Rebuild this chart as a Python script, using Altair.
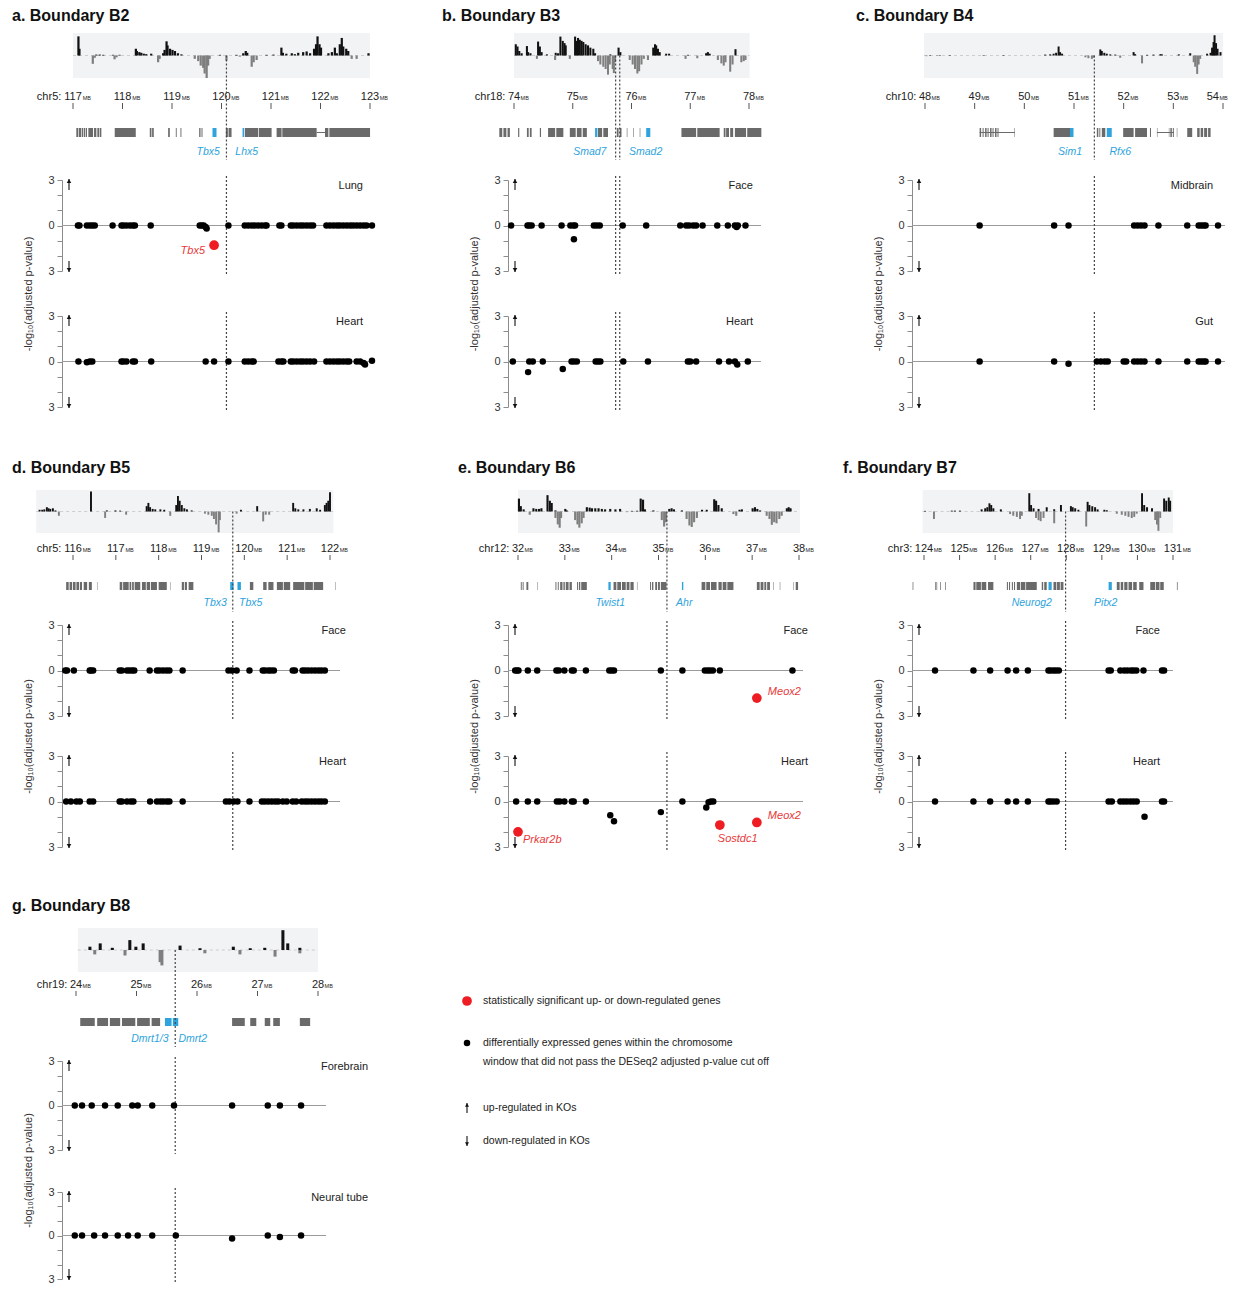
import altair as alt
import pandas as pd

FONT = "Liberation Sans"
BLACK = "#111111"
DOWN_GRAY = "#7f7f7f"
BOX_BG = "#f2f3f5"
GENE_GRAY = "#6a6a6a"
BLUE = "#2ea3dc"
RED = "#ee1d23"
RED_TXT = "#e8383a"
YTITLE = "-log\u2081\u2080(adjusted p-value)"

# ---------------- Panel a: Boundary B2 ----------------
A_TICKS = [117, 118, 119, 120, 121, 122, 123]
A_BOX = [117.0, 123.0]
A_BOUNDARY = [120.10]
A_SIG_UP = [[117.11,0.85],[117.13,0.3],[117.47,0.04],[117.54,0.04],[117.61,0.03],[117.81,0.03],[117.94,0.03],
            [118.27,0.3],[118.29,0.2],[118.34,0.15],[118.38,0.12],[118.43,0.08],[118.48,0.06],[118.58,0.08],
            [118.82,0.1],[118.85,0.25],[118.89,0.63],[118.91,0.45],[118.96,0.3],[119.01,0.25],[119.06,0.2],
            [119.12,0.1],[119.19,0.05],[119.97,0.03],[120.30,0.03],[120.44,0.1],[120.49,0.2],[120.52,0.12],
            [120.91,0.03],[121.05,0.04],[121.21,0.35],[121.24,0.12],[121.31,0.08],[121.42,0.1],[121.48,0.06],
            [121.55,0.12],[121.65,0.15],[121.72,0.18],[121.79,0.1],[121.87,0.3],[121.91,0.5],[121.94,0.85],
            [121.98,0.5],[122.01,0.35],[122.16,0.1],[122.23,0.15],[122.29,0.35],[122.33,0.1],[122.39,0.5],
            [122.43,0.78],[122.46,0.4],[122.52,0.3],[122.56,0.2],[122.97,0.1]]
A_SIG_DN = [[117.40,0.37],[117.44,0.1],[117.84,0.17],[117.88,0.08],[118.72,0.3],[118.75,0.15],[119.46,0.15],
            [119.53,0.25],[119.58,0.45],[119.63,0.55],[119.66,0.8],[119.70,1.0],[119.73,0.45],[119.76,0.15],
            [120.10,0.23],[120.37,0.05],[120.61,0.5],[120.65,0.3],[120.71,0.2],[122.63,0.15],[122.73,0.15]]
A_GENES = [[117.067,117.108],[117.121,117.162],[117.175,117.202],[117.216,117.243],[117.256,117.283],
           [117.310,117.405],[117.425,117.472],[117.492,117.526],[117.539,117.573],[117.843,118.268],
           [118.551,118.585],[118.598,118.632],[118.922,118.956],[119.077,119.095],[119.171,119.19],
           [119.549,119.576],[119.596,119.616],[120.088,120.129],[120.142,120.203],[120.473,120.742],
           [120.756,121.012],[121.113,121.214],[121.228,121.922],[122.091,122.159],[122.179,123.001]]
A_BLUE = [[119.818,119.899],[120.425,120.459]]
A_INTRONS = [[121.922,122.091]]
A_GENE_LABELS = [["Tbx5",119.73],["Lhx5",120.51]]
A_TISSUES = ["Lung","Heart"]
A_LUNG = [[117.10,0],[117.13,0],[117.28,0],[117.34,0],[117.39,0],[117.44,0],[117.80,0],[117.98,0],[118.02,0],
          [118.08,0],[118.15,0],[118.21,0],[118.25,0],[118.57,0],[119.56,0],[119.60,0],[119.64,0],[119.68,-0.1],
          [119.70,-0.2],[120.14,0],[120.47,0],[120.54,0],[120.61,0],[120.67,0],[120.74,0],[120.81,0],[120.88,0],
          [120.91,0],[121.17,0],[121.21,0],[121.40,0],[121.45,0],[121.52,0],[121.59,0],[121.65,0],[121.72,0],
          [121.79,0],[121.85,0],[122.12,0],[122.19,0],[122.26,0],[122.33,0],[122.39,0],[122.46,0],[122.53,0],
          [122.60,0],[122.66,0],[122.73,0],[122.80,0],[122.87,0],[122.93,0],[123.04,0]]
A_LUNG_SIG = [[119.85,-1.3,"Tbx5","left"]]
A_HEART = [[117.11,0],[117.28,-0.05],[117.34,0],[117.39,0],[117.98,0],[118.02,0],[118.08,0],[118.21,0],[118.25,0],
           [118.58,0],[119.68,0],[119.85,0],[120.14,0],[120.47,0],[120.54,0],[120.61,0],[120.65,0],[121.15,0],
           [121.21,0],[121.25,0],[121.40,0],[121.45,0],[121.52,0],[121.59,0],[121.65,0],[121.72,0],[121.79,0],
           [121.87,0],[122.12,0],[122.19,0],[122.26,0],[122.33,0],[122.39,0],[122.46,0],[122.53,0],[122.58,0],
           [122.73,0],[122.80,0],[122.87,-0.1],[122.90,-0.2],[123.04,0.05]]
A_HEART_SIG = []

# ---------------- Panel b: Boundary B3 ----------------
B_TICKS = [74, 75, 76, 77, 78]
B_BOX = [74.0, 78.01]
B_BOUNDARY = [75.73, 75.80]
B_SIG_UP = [[74.03,0.5],[74.06,0.4],[74.09,0.2],[74.13,0.1],[74.22,0.42],[74.24,0.15],[74.28,0.1],[74.41,0.62],
            [74.44,0.4],[74.47,0.15],[74.56,0.05],[74.71,0.12],[74.75,0.1],[74.79,0.84],[74.83,0.65],[74.86,0.55],
            [74.88,0.45],[75.04,0.84],[75.07,0.65],[75.09,0.78],[75.12,0.7],[75.15,0.65],[75.18,0.6],[75.22,0.5],
            [75.26,0.45],[75.30,0.35],[75.35,0.3],[75.38,0.1],[75.64,0.05],[75.78,0.35],[75.81,0.15],[76.37,0.35],
            [76.40,0.5],[76.42,0.45],[76.45,0.3],[76.48,0.15],[76.59,0.08],[76.64,0.08],[76.96,0.03],[77.27,0.1],
            [77.30,0.15],[77.33,0.08],[77.77,0.28]]
B_SIG_DN = [[74.39,0.15],[74.70,0.2],[74.95,0.15],[75.43,0.25],[75.47,0.4],[75.52,0.5],[75.56,0.6],[75.60,0.85],
            [75.63,0.4],[75.68,0.6],[75.70,0.78],[75.72,0.3],[75.97,0.2],[76.02,0.4],[76.06,0.6],[76.10,0.8],
            [76.13,0.7],[76.17,0.4],[76.21,0.15],[76.28,0.2],[76.92,0.15],[77.12,0.12],[77.47,0.2],[77.53,0.35],
            [77.57,0.45],[77.60,0.3],[77.68,0.72],[77.72,0.4],[77.87,0.3],[77.91,0.25],[77.94,0.2]]
B_GENES = [[73.75,73.80],[73.82,73.87],[73.89,73.93],[74.07,74.09],[74.22,74.25],[74.27,74.30],[74.44,74.46],
           [74.58,74.70],[74.72,74.84],[74.95,75.05],[75.07,75.15],[75.17,75.24],[75.43,75.50],[75.52,75.60],
           [75.75,75.78],[75.80,75.83],[75.92,75.93],[76.03,76.04],[76.14,76.15],[76.85,77.10],[77.12,77.50],
           [77.57,77.60],[77.61,77.66],[77.68,77.73],[77.76,77.95],[77.97,78.21]]
B_BLUE = [[75.38,75.42],[76.25,76.32]]
B_INTRONS = []
B_GENE_LABELS = [["Smad7",75.29],["Smad2",76.24]]
B_TISSUES = ["Face","Heart"]
B_FACE = [[73.95,0],[74.23,0],[74.26,0],[74.30,0],[74.47,0],[74.81,0],[74.96,0],[75.01,0],[75.04,0],[75.02,-0.9],
          [75.36,0],[75.41,0],[75.46,0],[75.85,0],[76.25,0],[76.83,0],[76.93,0],[76.98,0],[77.05,0],[77.10,0],
          [77.21,0],[77.46,0],[77.64,0],[77.76,0],[77.79,-0.1],[77.81,0],[77.94,0]]
B_HEART = [[73.98,0],[74.24,-0.7],[74.26,0],[74.32,0],[74.49,0],[74.83,-0.5],[74.98,0],[75.02,0],[75.07,0],
           [75.39,0],[75.43,0],[75.47,0],[75.86,0],[76.28,0],[76.96,0],[77.00,0],[77.10,0],[77.49,0],[77.66,0],
           [77.76,0],[77.80,-0.2],[77.98,0]]

# ---------------- Panel c: Boundary B4 ----------------
C_TICKS = [48, 49, 50, 51, 52, 53, 54]
C_BOX = [47.98, 54.0]
C_BOUNDARY = [51.41]
C_SIG_UP = [[48.10,0.02],[48.30,0.02],[48.50,0.02],[49.18,0.02],[49.58,0.02],[50.42,0.04],[50.52,0.05],[50.59,0.08],
            [50.64,0.12],[50.69,0.4],[50.72,0.15],[50.76,0.08],[51.53,0.27],[51.56,0.2],[51.61,0.12],[51.66,0.08],
            [51.73,0.05],[51.83,0.04],[52.20,0.15],[52.23,0.06],[52.47,0.03],[52.60,0.04],[52.74,0.06],[52.77,0.05],
            [53.11,0.05],[53.34,0.1],[53.68,0.08],[53.75,0.12],[53.78,0.35],[53.81,0.6],[53.83,0.9],[53.86,0.55],
            [53.89,0.3],[53.95,0.15]]
C_SIG_DN = [[48.03,0.03],[48.24,0.02],[51.23,0.08],[51.29,0.12],[51.36,0.15],[51.39,0.1],[51.93,0.1],[52.37,0.35],
            [53.41,0.3],[53.44,0.5],[53.48,0.82],[53.51,0.4],[53.54,0.15]]
C_GENES = [[49.10,49.13],[49.16,49.18],[49.21,49.24],[49.26,49.28],[49.31,49.34],[49.36,49.38],[49.41,49.44],
           [49.46,49.48],[49.80,49.81],[50.59,50.92],[51.46,51.49],[51.51,51.53],[51.56,51.63],[51.99,52.20],
           [52.23,52.47],[52.53,52.55],[52.67,52.68],[52.91,52.92],[52.94,52.97],[52.99,53.01],[53.07,53.08],
           [53.28,53.38],[53.48,53.53],[53.55,53.60],[53.62,53.68],[53.70,53.75]]
C_BLUE = [[50.92,50.99],[51.66,51.76]]
C_INTRONS = [[49.10,49.81],[52.67,53.01]]
C_GENE_LABELS = [["Sim1",50.92],["Rfx6",51.93]]
C_TISSUES = ["Midbrain","Gut"]
C_MID = [[49.10,0],[50.60,0],[50.89,0],[52.21,0],[52.28,0],[52.35,0],[52.42,0],[52.70,0],[53.28,0],[53.51,0],
         [53.56,0],[53.61,0],[53.65,0],[53.90,0]]
C_GUT = [[49.10,0],[50.60,0],[50.89,-0.15],[51.46,0],[51.54,0],[51.62,0],[51.68,0],[52.00,0],[52.05,0],[52.21,0],
         [52.28,0],[52.35,0],[52.42,0],[52.70,0],[53.28,0],[53.51,0],[53.56,0],[53.61,0],[53.65,0],[53.90,0]]

# ---------------- Panel d: Boundary B5 ----------------
D_TICKS = [116, 117, 118, 119, 120, 121, 122]
D_BOX = [115.14, 122.08]
D_BOUNDARY = [119.73]
D_SIG_UP = [[115.22,0.08],[115.28,0.08],[115.33,0.1],[115.39,0.2],[115.43,0.15],[115.47,0.12],[115.53,0.15],
            [115.59,0.05],[116.42,0.93],[116.79,0.05],[116.99,0.05],[117.10,0.04],[117.72,0.25],[117.76,0.4],
            [117.80,0.2],[117.86,0.12],[117.92,0.1],[118.04,0.1],[118.13,0.08],[118.41,0.3],[118.45,0.72],
            [118.49,0.5],[118.54,0.3],[118.60,0.15],[118.66,0.1],[118.77,0.05],[119.92,0.08],[120.30,0.25],
            [121.14,0.4],[121.19,0.15],[121.26,0.1],[121.38,0.1],[121.53,0.12],[121.69,0.15],[121.77,0.08],
            [121.88,0.3],[121.92,0.4],[121.96,0.5],[122.00,0.9]]
D_SIG_DN = [[115.67,0.2],[116.75,0.3],[117.24,0.15],[118.27,0.2],[119.08,0.1],[119.16,0.15],[119.24,0.2],
            [119.29,0.35],[119.34,0.6],[119.40,0.97],[119.43,0.4],[119.82,0.1],[120.44,0.46],[120.50,0.15],
            [120.58,0.15]]
D_GENES = [[115.84,115.90],[115.92,115.98],[116.00,116.06],[116.08,116.14],[116.16,116.21],[116.25,116.33],
           [116.37,116.44],[116.56,116.57],[117.09,117.15],[117.17,117.30],[117.32,117.36],[117.38,117.42],
           [117.44,117.57],[117.61,117.70],[117.72,117.80],[117.82,117.96],[118.00,118.19],[118.27,118.28],
           [118.54,118.59],[118.61,118.66],[118.70,118.81],[120.13,120.21],[120.44,120.52],[120.56,120.68],
           [120.76,120.90],[120.92,121.07],[121.14,121.40],[121.42,121.60],[121.62,121.84],[122.12,122.13]]
D_BLUE = [[119.67,119.75],[119.84,119.92]]
D_INTRONS = []
D_GENE_LABELS = [["Tbx3",119.32],["Tbx5",120.15]]
D_TISSUES = ["Face","Heart"]
D_FACE = [[115.82,0],[115.86,0],[116.02,0],[116.39,0],[116.42,0],[116.47,0],[117.09,0],[117.14,0],[117.26,0],
          [117.32,0],[117.38,0],[117.43,0],[117.79,0],[117.96,0],[118.02,0],[118.10,0],[118.18,0],[118.25,0],
          [118.56,0],[119.63,0],[119.71,0],[119.82,0],[120.12,0],[120.43,0],[120.48,0],[120.56,0],[120.62,0],
          [120.69,0],[121.13,0],[121.18,0],[121.36,0],[121.42,0],[121.49,0],[121.57,0],[121.65,0],[121.73,0],
          [121.80,0],[121.88,0]]
D_HEART = [[115.84,0],[115.95,0],[116.08,0],[116.16,0],[116.39,0],[116.47,0],[117.09,0],[117.14,0],[117.26,0],
           [117.35,0],[117.41,0],[117.80,0],[117.96,0],[118.04,0],[118.11,0],[118.19,0],[118.25,0],[118.56,0],
           [119.57,0],[119.65,0],[119.75,0],[119.84,0],[120.12,0],[120.41,0],[120.48,0],[120.56,0],[120.64,0],
           [120.72,0],[120.79,0],[120.90,0],[120.99,0],[121.13,0],[121.21,0],[121.34,0],[121.42,0],[121.49,0],
           [121.57,0],[121.65,0],[121.73,0],[121.80,0],[121.88,0]]

# ---------------- Panel e: Boundary B6 ----------------
E_TICKS = [32, 33, 34, 35, 36, 37, 38]
E_BOX = [32.0, 38.02]
E_BOUNDARY = [35.18]
E_SIG_UP = [[32.02,0.6],[32.06,0.25],[32.12,0.1],[32.33,0.15],[32.39,0.12],[32.45,0.12],[32.50,0.15],[32.63,0.76],
            [32.68,0.5],[32.72,0.4],[32.80,0.05],[33.01,0.12],[33.04,0.05],[33.47,0.2],[33.53,0.18],[33.58,0.15],
            [33.65,0.15],[33.72,0.15],[33.79,0.12],[33.86,0.1],[33.97,0.12],[34.08,0.1],[34.18,0.12],[34.43,0.03],
            [34.54,0.03],[34.62,0.6],[34.67,0.55],[34.71,0.1],[34.89,0.05],[35.23,0.12],[35.28,0.15],[35.33,0.1],
            [35.50,0.05],[35.93,0.08],[36.03,0.08],[36.19,0.57],[36.23,0.5],[36.28,0.3],[36.35,0.15],[36.73,0.08],
            [36.78,0.1],[37.01,0.15],[37.06,0.2],[37.11,0.12],[37.17,0.05],[37.74,0.15],[37.78,0.2],[37.82,0.15]]
E_SIG_DN = [[32.25,0.15],[32.80,0.3],[32.85,0.6],[32.89,0.76],[32.92,0.3],[33.22,0.4],[33.27,0.6],[33.31,0.75],
            [33.36,0.55],[33.40,0.3],[34.32,0.03],[35.07,0.4],[35.12,0.7],[35.16,0.5],[35.60,0.35],[35.66,0.65],
            [35.71,0.72],[35.76,0.5],[35.82,0.3],[36.60,0.12],[36.66,0.2],[37.31,0.2],[37.37,0.35],[37.42,0.62],
            [37.47,0.5],[37.52,0.55],[37.58,0.35],[37.63,0.2]]
E_GENES = [[32.06,32.08],[32.10,32.12],[32.18,32.22],[32.41,32.42],[32.80,32.82],[32.85,32.87],[32.90,32.95],
           [32.97,33.00],[33.02,33.08],[33.10,33.15],[33.26,33.28],[33.30,33.33],[33.35,33.47],[34.04,34.10],
           [34.12,34.20],[34.22,34.30],[34.32,34.38],[34.40,34.47],[34.54,34.55],[34.82,34.84],[34.86,34.89],
           [34.93,34.97],[34.99,35.03],[35.05,35.17],[35.92,36.00],[36.02,36.10],[36.12,36.24],[36.28,36.35],
           [36.37,36.45],[36.47,36.60],[37.10,37.16],[37.18,37.24],[37.26,37.30],[37.32,37.38],[37.45,37.46],
           [37.59,37.60],[37.88,37.89],[37.93,37.98]]
E_BLUE = [[33.93,33.98],[35.50,35.53]]
E_INTRONS = []
E_GENE_LABELS = [["Twist1",33.97],["Ahr",35.55]]
E_TISSUES = ["Face","Heart"]
E_FACE = [[31.94,0],[31.98,0],[32.01,0],[32.21,0],[32.41,0],[32.82,0],[32.87,0],[32.99,0],[33.15,0],[33.19,0],
          [33.45,0],[33.95,0],[34.00,0],[34.05,0],[35.05,0],[35.51,0],[35.99,0],[36.05,0],[36.10,0],[36.16,0],
          [36.31,0],[37.86,0]]
E_FACE_SIG = [[37.10,-1.82,"Meox2","right"]]
E_HEART = [[31.96,0],[32.21,0],[32.41,0],[32.83,0],[32.89,0],[32.99,0],[33.15,0],[33.19,0],[33.45,0],
           [33.97,-0.9],[34.05,-1.3],[35.05,-0.7],[35.51,0],[36.02,-0.4],[36.07,-0.05],[36.12,0],[36.17,0]]
E_HEART_SIG = [[32.00,-2.0,"Prkar2b","belowright"],[36.31,-1.55,"Sostdc1","below"],[37.10,-1.38,"Meox2","right"]]

# ---------------- Panel f: Boundary B7 ----------------
F_TICKS = [124, 125, 126, 127, 128, 129, 130, 131]
F_BOX = [123.96, 131.0]
F_BOUNDARY = [127.98]
F_SIG_UP = [[124.03,0.03],[124.78,0.04],[124.87,0.04],[125.01,0.04],[125.62,0.1],[125.72,0.15],[125.78,0.2],
            [125.84,0.38],[125.89,0.3],[125.95,0.15],[126.16,0.1],[126.96,0.85],[127.01,0.3],[127.08,0.15],
            [127.22,0.12],[127.45,0.2],[127.66,0.1],[127.85,0.3],[128.13,0.25],[128.18,0.2],[128.25,0.15],
            [128.34,0.08],[128.60,0.45],[128.65,0.3],[128.73,0.25],[128.81,0.2],[128.88,0.1],[129.07,0.08],
            [129.14,0.06],[130.13,0.85],[130.19,0.3],[130.27,0.2],[130.41,0.15],[130.75,0.6],[130.81,0.5],
            [130.88,0.65],[130.92,0.5]]
F_SIG_DN = [[124.28,0.35],[126.42,0.12],[126.51,0.2],[126.61,0.25],[126.70,0.35],[126.75,0.2],[127.15,0.3],
            [127.22,0.4],[127.28,0.45],[127.36,0.3],[127.66,0.55],[128.56,0.7],[129.42,0.1],[129.56,0.15],
            [129.66,0.2],[129.75,0.25],[129.84,0.3],[129.91,0.25],[129.98,0.1],[130.50,0.4],[130.55,0.6],
            [130.59,0.9],[130.64,0.3]]
F_GENES = [[123.68,123.70],[124.31,124.33],[124.35,124.37],[124.45,124.47],[124.59,124.61],[125.39,125.45],
           [125.47,125.60],[125.62,125.75],[125.80,125.95],[126.33,126.36],[126.39,126.42],[126.47,126.50],
           [126.53,126.56],[126.61,126.70],[126.72,126.85],[126.87,127.17],[127.31,127.35],[127.38,127.45],
           [127.64,127.72],[127.74,127.82],[127.84,127.92],[129.42,129.50],[129.53,129.60],[129.63,129.72],
           [129.75,129.85],[129.88,129.98],[130.05,130.17],[130.36,130.50],[130.52,130.62],[130.64,130.74],
           [131.11,131.13]]
F_BLUE = [[127.50,127.59],[129.19,129.28]]
F_INTRONS = []
F_GENE_LABELS = [["Neurog2",127.03],["Pitx2",129.11]]
F_TISSUES = ["Face","Heart"]
F_FACE = [[124.31,0],[125.39,0],[125.86,0],[126.35,0],[126.59,0],[126.92,0],[127.50,0],[127.56,0],[127.64,0],
          [127.71,0],[127.79,0],[129.19,0],[129.25,0],[129.52,0],[129.63,0],[129.72,0],[129.82,0],[129.89,0],
          [129.97,0],[130.17,0],[130.69,0],[130.75,0]]
F_HEART = [[124.31,0],[125.39,0],[125.86,0],[126.35,0],[126.59,0],[126.92,0],[127.50,0],[127.56,0],[127.64,0],
           [127.73,0],[129.19,0],[129.28,0],[129.52,0],[129.61,0],[129.70,0],[129.80,0],[129.89,0],[129.98,0],
           [130.20,-1.0],[130.69,0],[130.75,0]]

# ---------------- Panel g: Boundary B8 ----------------
G_TICKS = [24, 25, 26, 27, 28]
G_BOX = [24.03, 28.0]
G_BOUNDARY = [25.64]
G_SIG_UP = [[24.23,0.15],[24.40,0.3],[24.60,0.1],[24.89,0.45],[24.99,0.15],[25.11,0.3],[25.72,0.2],[26.05,0.08],
            [26.60,0.15],[26.88,0.08],[27.12,0.1],[27.42,0.9],[27.50,0.3],[27.70,0.1]]
G_SIG_DN = [[24.31,0.2],[24.81,0.25],[25.39,0.55],[25.42,0.7],[26.13,0.15],[26.71,0.2],[27.29,0.3],[27.70,0.15]]
G_GENES = [[24.07,24.31],[24.35,24.53],[24.56,24.73],[24.76,24.98],[25.01,25.22],[25.25,25.39],[26.58,26.79],
           [26.88,26.98],[27.12,27.21],[27.26,27.37],[27.70,27.87]]
G_BLUE = [[25.47,25.58],[25.60,25.69]]
G_INTRONS = []
G_GENE_LABELS = [["Dmrt1/3",25.22],["Dmrt2",25.93]]
G_TISSUES = ["Forebrain","Neural tube"]
G_FORE = [[23.98,0],[24.10,0],[24.26,0],[24.48,0],[24.69,0],[24.93,0],[25.02,0],[25.26,0],[25.62,0],[26.58,0],
          [27.17,0],[27.37,0],[27.72,0]]
G_NEURAL = [[23.98,0],[24.10,0],[24.30,0],[24.48,0],[24.69,0],[24.86,0],[25.02,0],[25.26,0],[25.65,0],
            [26.58,-0.2],[27.17,0],[27.37,-0.1],[27.72,0]]

LEGEND_TEXTS = ["statistically significant up- or down-regulated genes",
                "differentially expressed genes within the chromosome",
                "window that did not pass the DESeq2 adjusted p-value cut off",
                "up-regulated in KOs",
                "down-regulated in KOs"]

# ---------------- layout (pixels) ----------------
# hh/c1/c2: grid cell heights of header / upper scatter / lower scatter rows; s1/s2: scatter plot heights
ROW_GEOM = [
    dict(hh=147, c1=136, c2=174, s1=91, s2=91, sig_h=45, lab_y=67, tick_y0=70, tick_y1=76, gene_y0=95, gene_y1=104,
         glab_y=119, dash_end=127, title_y=-12),
    dict(hh=135, c1=131, c2=172, s1=91, s2=91, sig_h=43, lab_y=62, tick_y0=65, tick_y1=70, gene_y0=92, gene_y1=100,
         glab_y=113, dash_end=122, title_y=-17),
    dict(hh=133, c1=131, c2=87, s1=89, s2=87, sig_h=44, lab_y=60, tick_y0=63, tick_y1=68, gene_y0=90, gene_y1=98,
         glab_y=111, dash_end=119, title_y=-17),
]
COL_W = [446, 404, 312]

PANELS = [
    [dict(title="a. Boundary B2", title_x=12, chrom="chr5:", ticks=A_TICKS, p0=73, p1=370, origin=62, box=A_BOX,
          bw=0.045, up=A_SIG_UP, dn=A_SIG_DN, genes=A_GENES, blue=A_BLUE, introns=A_INTRONS, glab=A_GENE_LABELS,
          bnd=A_BOUNDARY, tissues=A_TISSUES, pts=[A_LUNG, A_HEART], sig=[A_LUNG_SIG, A_HEART_SIG],
          zero_end=375, tissue_x=363, width=COL_W[0], last_right=False),
     dict(title="b. Boundary B3", title_x=442, chrom="chr18:", ticks=B_TICKS, p0=514, p1=749, origin=508, box=B_BOX,
          bw=0.035, up=B_SIG_UP, dn=B_SIG_DN, genes=B_GENES, blue=B_BLUE, introns=B_INTRONS, glab=B_GENE_LABELS,
          bnd=B_BOUNDARY, tissues=B_TISSUES, pts=[B_FACE, B_HEART], sig=[[], []],
          zero_end=761, tissue_x=753, width=COL_W[1], last_right=False),
     dict(title="c. Boundary B4", title_x=856, chrom="chr10:", ticks=C_TICKS, p0=925, p1=1223, origin=912, box=C_BOX,
          bw=0.04, up=C_SIG_UP, dn=C_SIG_DN, genes=C_GENES, blue=C_BLUE, introns=C_INTRONS, glab=C_GENE_LABELS,
          bnd=C_BOUNDARY, tissues=C_TISSUES, pts=[C_MID, C_GUT], sig=[[], []],
          zero_end=1225, tissue_x=1213, width=COL_W[2], last_right=True)],
    [dict(title="d. Boundary B5", title_x=12, chrom="chr5:", ticks=D_TICKS, p0=73, p1=330, origin=62, box=D_BOX,
          bw=0.045, up=D_SIG_UP, dn=D_SIG_DN, genes=D_GENES, blue=D_BLUE, introns=D_INTRONS, glab=D_GENE_LABELS,
          bnd=D_BOUNDARY, tissues=D_TISSUES, pts=[D_FACE, D_HEART], sig=[[], []],
          zero_end=340, tissue_x=346, width=COL_W[0], last_right=False),
     dict(title="e. Boundary B6", title_x=458, chrom="chr12:", ticks=E_TICKS, p0=518, p1=799, origin=508, box=E_BOX,
          bw=0.045, up=E_SIG_UP, dn=E_SIG_DN, genes=E_GENES, blue=E_BLUE, introns=E_INTRONS, glab=E_GENE_LABELS,
          bnd=E_BOUNDARY, tissues=E_TISSUES, pts=[E_FACE, E_HEART], sig=[E_FACE_SIG, E_HEART_SIG],
          zero_end=803, tissue_x=808, width=COL_W[1], last_right=False),
     dict(title="f.  Boundary B7", title_x=843, chrom="chr3:", ticks=F_TICKS, p0=924, p1=1173, origin=912, box=F_BOX,
          bw=0.055, up=F_SIG_UP, dn=F_SIG_DN, genes=F_GENES, blue=F_BLUE, introns=F_INTRONS, glab=F_GENE_LABELS,
          bnd=F_BOUNDARY, tissues=F_TISSUES, pts=[F_FACE, F_HEART], sig=[[], []],
          zero_end=1173, tissue_x=1160, width=COL_W[2], last_right=False)],
    [dict(title="g. Boundary B8", title_x=12, chrom="chr19:", ticks=G_TICKS, p0=76, p1=318, origin=62, box=G_BOX,
          bw=0.05, up=G_SIG_UP, dn=G_SIG_DN, genes=G_GENES, blue=G_BLUE, introns=G_INTRONS, glab=G_GENE_LABELS,
          bnd=G_BOUNDARY, tissues=G_TISSUES, pts=[G_FORE, G_NEURAL], sig=[[], []],
          zero_end=326, tissue_x=368, width=COL_W[0], last_right=False)],
]

SIDES = {
    "left": dict(align="right", dx=-9, dy=6),
    "right": dict(align="left", dx=11, dy=-6),
    "below": dict(align="left", dx=-2, dy=14),
    "belowright": dict(align="left", dx=5, dy=8),
}

DUMMY = pd.DataFrame({"k": [0]})


def xscale(p):
    o = p["origin"]
    return alt.Scale(domain=[p["ticks"][0], p["ticks"][-1]], range=[p["p0"] - o, p["p1"] - o], nice=False, zero=False)


def arrow_layers(x, y_top, length, up=True, size=20):
    """small arrow: a shaft plus a filled triangular head"""
    shaft = alt.Chart(DUMMY).mark_rule(color="#111", strokeWidth=1.1).encode(
        x=alt.value(x), y=alt.value(y_top), y2=alt.value(y_top + length))
    head_y = y_top + 2 if up else y_top + length - 2
    head = alt.Chart(DUMMY).mark_point(shape="triangle-up" if up else "triangle-down", filled=True, size=size,
                                       color="#111", opacity=1).encode(x=alt.value(x), y=alt.value(head_y))
    return [shaft, head]


def header(p, g):
    xs = xscale(p)
    sh = g["sig_h"]
    ys = alt.Scale(domain=[-1, 1], range=[sh, 0], nice=False, zero=False)
    bw = p["bw"]
    up = pd.DataFrame(p["up"], columns=["pos", "h"])
    up["x0"] = up.pos - bw / 2
    up["x1"] = up.pos + bw / 2
    dn = pd.DataFrame(p["dn"], columns=["pos", "h"])
    dn["h"] = -dn["h"]
    dn["x0"] = dn.pos - bw / 2
    dn["x1"] = dn.pos + bw / 2
    box = pd.DataFrame({"s0": [p["box"][0]], "s1": [p["box"][1]]})

    def X(f):
        return alt.X(f, type="quantitative", scale=xs, axis=None)

    L = []
    L.append(alt.Chart(DUMMY).mark_text(text=p["title"], font=FONT, fontSize=16, fontWeight="bold", color="#111",
                                        align="left", baseline="alphabetic").encode(
        x=alt.value(p["title_x"] - p["origin"]), y=alt.value(g["title_y"])))
    L.append(alt.Chart(box).mark_rect(color=BOX_BG).encode(x=X("s0"), x2="s1:Q", y=alt.value(0), y2=alt.value(sh)))
    L.append(alt.Chart(box).mark_rule(color="#b5b5b5", strokeWidth=0.6, strokeDash=[3, 3]).encode(
        x=X("s0"), x2="s1:Q", y=alt.value(sh / 2)))
    L.append(alt.Chart(up).mark_rect(color=BLACK).encode(
        x=X("x0"), x2="x1:Q", y=alt.Y("h:Q", scale=ys, axis=None), y2=alt.datum(0)))
    L.append(alt.Chart(dn).mark_rect(color=DOWN_GRAY).encode(
        x=X("x0"), x2="x1:Q", y=alt.Y("h:Q", scale=ys, axis=None), y2=alt.datum(0)))

    tk = pd.DataFrame({"t": p["ticks"]})
    tk["lab"] = tk["t"].astype(str)
    half = len(str(p["ticks"][0])) * 3.06
    L.append(alt.Chart(tk).mark_rule(color="#555", strokeWidth=1).encode(
        x=X("t"), y=alt.value(g["tick_y0"]), y2=alt.value(g["tick_y1"])))
    main = tk.iloc[:-1] if p["last_right"] else tk
    L.append(alt.Chart(main).mark_text(font=FONT, fontSize=11, color="#222", align="center", baseline="alphabetic").encode(
        x=X("t"), y=alt.value(g["lab_y"]), text="lab:N"))
    L.append(alt.Chart(main).mark_text(font=FONT, fontSize=5.5, color="#222", align="left", baseline="alphabetic",
                                       text="MB", dx=half + 0.5).encode(x=X("t"), y=alt.value(g["lab_y"])))
    if p["last_right"]:
        last = tk.iloc[-1:]
        L.append(alt.Chart(last).mark_text(font=FONT, fontSize=11, color="#222", align="right", baseline="alphabetic",
                                           dx=-4).encode(x=X("t"), y=alt.value(g["lab_y"]), text="lab:N"))
        L.append(alt.Chart(last).mark_text(font=FONT, fontSize=5.5, color="#222", align="left", baseline="alphabetic",
                                           text="MB", dx=-3.5).encode(x=X("t"), y=alt.value(g["lab_y"])))
    chrdf = pd.DataFrame({"t": [p["ticks"][0]], "c": [p["chrom"]]})
    L.append(alt.Chart(chrdf).mark_text(font=FONT, fontSize=11, color="#222", align="right", baseline="alphabetic",
                                        dx=-(half + 2.5)).encode(x=X("t"), y=alt.value(g["lab_y"]), text="c:N"))

    gy0, gy1 = g["gene_y0"], g["gene_y1"]
    if p["introns"]:
        idf = pd.DataFrame(p["introns"], columns=["g0", "g1"])
        L.append(alt.Chart(idf).mark_rule(color=GENE_GRAY, strokeWidth=1).encode(
            x=X("g0"), x2="g1:Q", y=alt.value((gy0 + gy1) / 2)))
    gdf = pd.DataFrame(p["genes"], columns=["g0", "g1"])
    L.append(alt.Chart(gdf).mark_rect(color=GENE_GRAY).encode(x=X("g0"), x2="g1:Q", y=alt.value(gy0), y2=alt.value(gy1)))
    bdf = pd.DataFrame(p["blue"], columns=["g0", "g1"])
    L.append(alt.Chart(bdf).mark_rect(color=BLUE).encode(x=X("g0"), x2="g1:Q", y=alt.value(gy0), y2=alt.value(gy1)))
    ldf = pd.DataFrame(p["glab"], columns=["name", "x"])
    L.append(alt.Chart(ldf).mark_text(font=FONT, fontSize=10.5, fontStyle="italic", color=BLUE, baseline="middle").encode(
        x=X("x"), y=alt.value(g["glab_y"]), text="name:N"))
    bnd = pd.DataFrame({"b": p["bnd"]})
    L.append(alt.Chart(bnd).mark_rule(color="#444", strokeWidth=1.2, strokeDash=[2, 2]).encode(
        x=X("b"), y=alt.value(sh / 2), y2=alt.value(g["dash_end"])))

    return alt.layer(*L).properties(width=p["width"], height=g["hh"])


def scatter(p, g, k):
    xs = xscale(p)
    H = g["s1"] if k == 0 else g["s2"]
    cell_h = g["c1"] if k == 0 else g["c2"]
    ys = alt.Scale(domain=[-3, 3], range=[H, 0], nice=False, zero=False)
    total = g["c1"] + g["s2"]
    axkw = dict(values=[-3, -2, -1, 0, 1, 2, 3],
                labelExpr="datum.value == 0 ? '0' : (abs(datum.value) == 3 ? '3' : '')",
                grid=False, domainColor="#8c8c8c", tickColor="#8c8c8c", tickSize=5, tickWidth=1, domainWidth=1,
                labelFontSize=11, labelColor="#333", labelPadding=3, labelFont=FONT)
    if k == 0:
        yaxis = alt.Axis(title=YTITLE, titleX=-34, titleY=total / 2, titleAngle=270, titleFontSize=11,
                         titleFontWeight="normal", titleColor="#333", titleFont=FONT, titleAlign="center",
                         titleBaseline="middle", **axkw)
    else:
        yaxis = alt.Axis(title="", **axkw)

    def X(f):
        return alt.X(f, type="quantitative", scale=xs, axis=None)

    def Y(f):
        return alt.Y(f, type="quantitative", scale=ys, axis=yaxis)

    o = p["origin"]
    L = []
    zdf = pd.DataFrame({"z": [0]})
    L.append(alt.Chart(zdf).mark_rule(color="#9b9b9b", strokeWidth=1.2).encode(
        x=alt.value(0), x2=alt.value(p["zero_end"] - o), y=Y("z")))
    bnd = pd.DataFrame({"b": p["bnd"]})
    L.append(alt.Chart(bnd).mark_rule(color="#444", strokeWidth=1.2, strokeDash=[2, 2]).encode(
        x=X("b"), y=alt.value(-4), y2=alt.value(H + 4)))
    pdf = pd.DataFrame(p["pts"][k], columns=["x", "y"])
    L.append(alt.Chart(pdf).mark_circle(size=42, color="#000", opacity=1).encode(x=X("x"), y=Y("y")))
    if p["sig"][k]:
        sdf = pd.DataFrame(p["sig"][k], columns=["x", "y", "name", "side"])
        L.append(alt.Chart(sdf).mark_circle(size=95, color=RED, opacity=1).encode(x=X("x"), y=Y("y")))
        for side, kw in SIDES.items():
            sub = sdf[sdf.side == side]
            if len(sub):
                L.append(alt.Chart(sub).mark_text(font=FONT, fontSize=11, fontStyle="italic", color=RED_TXT,
                                                  baseline="middle", **kw).encode(x=X("x"), y=Y("y"), text="name:N"))
    tdf = pd.DataFrame({"t": [p["tissues"][k]]})
    L.append(alt.Chart(tdf).mark_text(font=FONT, fontSize=11, color="#222", align="right", baseline="middle").encode(
        x=alt.value(p["tissue_x"] - o), y=alt.value(6), text="t:N"))
    L += arrow_layers(7, -1, 11, up=True)
    L += arrow_layers(7, H - 10, 11, up=False)
    return alt.layer(*L).properties(width=p["width"], height=cell_h)


def legend_chart():
    L = []
    L.append(alt.Chart(DUMMY).mark_circle(size=95, color=RED, opacity=1).encode(x=alt.value(-41), y=alt.value(73)))
    L.append(alt.Chart(DUMMY).mark_circle(size=42, color="#000", opacity=1).encode(x=alt.value(-41), y=alt.value(115)))
    L += arrow_layers(-41, 175, 10, up=True, size=16)
    L += arrow_layers(-41, 208, 10, up=False, size=16)
    ys = [73, 115, 134, 180, 213]
    for t, yy in zip(LEGEND_TEXTS, ys):
        L.append(alt.Chart(DUMMY).mark_text(font=FONT, fontSize=10.5, color="#222", align="left", baseline="middle",
                                            text=t).encode(x=alt.value(-25), y=alt.value(yy)))
    return alt.layer(*L).properties(width=COL_W[1], height=40)


def blank():
    return alt.Chart(DUMMY).mark_text(text=" ").encode(x=alt.value(0), y=alt.value(0)).properties(width=10, height=10)


cells = []
for r, plist in enumerate(PANELS):
    g = ROW_GEOM[r]
    heads = [header(p, g) for p in plist]
    ups = [scatter(p, g, 0) for p in plist]
    lows = [scatter(p, g, 1) for p in plist]
    if r == 2:
        heads += [legend_chart(), blank()]
        ups += [blank(), blank()]
    cells += heads + ups + lows

chart = alt.concat(*cells, columns=3, spacing=0, bounds="flush", align="each").properties(
    padding={"left": 4, "top": 0, "right": 0, "bottom": 0}
).configure(font=FONT).configure_view(stroke="transparent", strokeWidth=0)

chart.save("out.html", embed_options={"renderer": "svg", "actions": False})
